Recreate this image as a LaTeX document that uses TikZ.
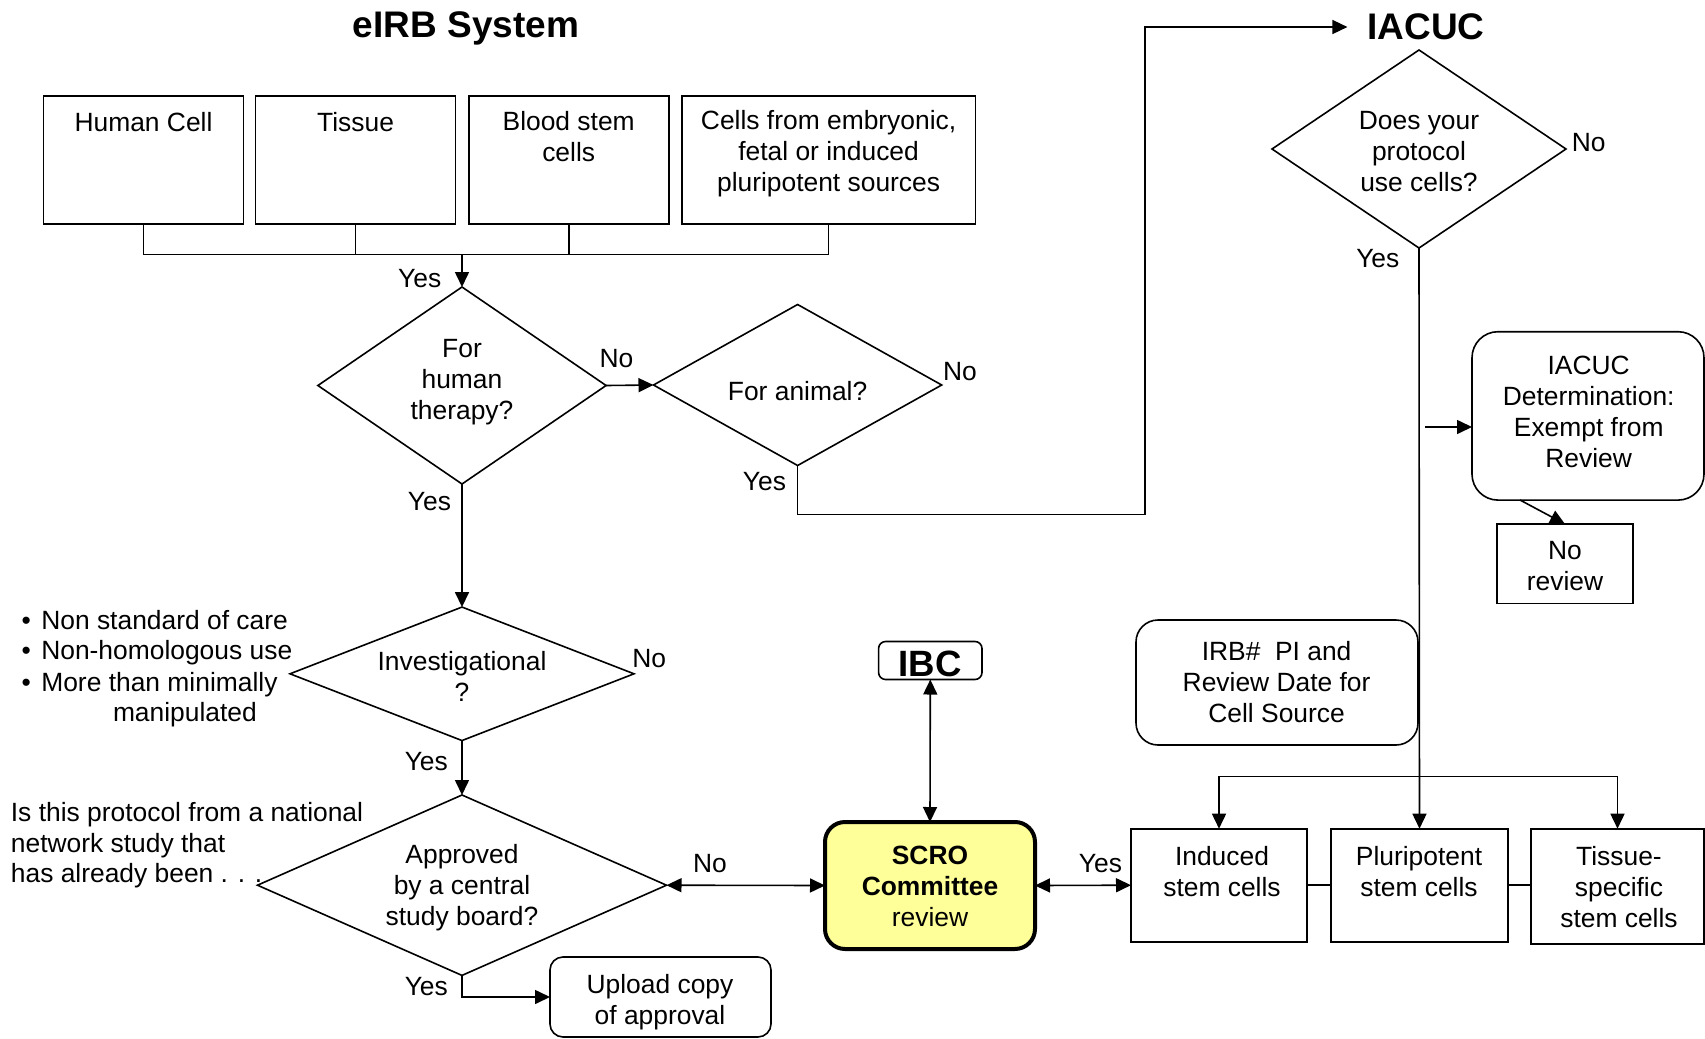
\documentclass[tikz,border=0pt]{standalone}
\usepackage{fontspec}
\setmainfont{Liberation Sans}
\usetikzlibrary{shapes.geometric,arrows.meta}
\definecolor{scroyellow}{HTML}{FFFF99}
\tikzset{
  every node/.style={inner sep=0pt, outer sep=0pt},
  txt/.style={font=\fontsize{13.2}{15.5}\selectfont, align=center},
  lbl/.style={font=\fontsize{13.2}{15.5}\selectfont},
  ttl/.style={font=\fontsize{18.5}{22}\selectfont\bfseries},
  sqbox/.style={draw, line width=0.8pt, rectangle},
  rbox/.style={draw, line width=0.8pt, rectangle, rounded corners=#1},
  dia/.style={draw, line width=0.8pt, diamond},
  conn/.style={line width=0.8pt},
  arr/.style={conn, -{Triangle[length=7.5pt,width=7pt]}},
  darr/.style={conn, {Triangle[length=7.5pt,width=7pt]}-{Triangle[length=7.5pt,width=7pt]}},
}
\begin{document}
\begin{tikzpicture}[x=0.5pt,y=-0.5pt]
\fill[white] (0,0) rectangle (1705,1039);
\useasboundingbox (0,0) rectangle (1705,1039);

% titles
\node[ttl] (ttlirb) at (466,28) {eIRB System};
\node[ttl] (ttliac) at (1426,27) {IACUC};

% top source boxes
\node[sqbox, minimum width=100pt, minimum height=64.2pt] (b1) at (143.5,159.9) {};
\node[txt] (t1) at (143.5,121.8) {Human Cell};
\node[sqbox, minimum width=100pt, minimum height=64.2pt] (b2) at (355.6,159.9) {};
\node[txt] (t2) at (355.6,121.8) {Tissue};
\node[sqbox, minimum width=100pt, minimum height=64.2pt] (b3) at (568.7,159.9) {};
\node[txt] (t3) at (568.7,137) {Blood stem\\cells};
\node[sqbox, minimum width=146.8pt, minimum height=64.2pt] (b4) at (828.6,159.9) {};
\node[txt] (t4) at (828.6,154) {Cells from embryonic,\\fetal or induced\\pluripotent sources};

% diamonds
\node[dia, minimum width=144.1pt, minimum height=98.5pt] (d1) at (462,385.5) {};
\node[txt] (td1) at (462,382) {For\\human\\therapy?};
\node[dia, minimum width=144.1pt, minimum height=80.5pt] (d2) at (797.6,385) {};
\node[txt] (td2) at (797.6,391.5) {For animal?};
\node[dia, minimum width=147pt, minimum height=99pt] (d5) at (1419,149) {};
\node[txt] (td5) at (1419,152) {Does your\\protocol\\use cells?};
\node[dia, minimum width=172pt, minimum height=66.75pt] (d3) at (462,673.8) {};
\node[txt] (td3) at (462,676) {Investigational\\?};
\node[dia, minimum width=204.5pt, minimum height=90.2pt] (d6) at (462,885.2) {};
\node[txt] (td6) at (462,888) {Approved\\by a central\\study board?};

% IACUC side
\node[rbox=13pt, minimum width=116pt, minimum height=84.2pt] (det) at (1588,415.9) {};
\node[txt] (tdet) at (1588.7,411.6) {IACUC\\Determination:\\Exempt from\\Review};
\node[sqbox, minimum width=68pt, minimum height=39.75pt] (nrev) at (1565,563.8) {};
\node[txt] (tnrev) at (1565,566) {No\\review};
\node[rbox=11pt, minimum width=141pt, minimum height=62.5pt] (irb) at (1277,682.5) {};
\node[txt] (tirb) at (1276.6,682) {IRB\#\ \ PI and\\Review Date for\\Cell Source};

% stem cell boxes
\node[sqbox, minimum width=88pt, minimum height=56.5pt] (ind) at (1219,885.2) {};
\node[txt] (tind) at (1222,872) {Induced\\stem cells};
\node[sqbox, minimum width=88.5pt, minimum height=56.5pt] (plu) at (1419.5,885.2) {};
\node[txt] (tplu) at (1419,872) {Pluripotent\\stem cells};
\node[sqbox, minimum width=86.5pt, minimum height=57.6pt] (tis) at (1617.5,886.3) {};
\node[txt] (ttis) at (1619,887.5) {Tissue-\\specific\\stem cells};

% SCRO, IBC, upload
\node[rbox=10pt, draw, line width=2pt, fill=scroyellow, minimum width=105pt, minimum height=63.5pt] (scro) at (930,885.5) {};
\node[txt] (tscro) at (930,886) {\textbf{SCRO}\\\textbf{Committee}\\review};
\node[rbox=3.5pt, minimum width=51.7pt, minimum height=19pt] (ibc) at (930.3,660.5) {};
\node[font=\fontsize{18.3}{22}\selectfont\bfseries] (tibc) at (930.3,664) {IBC};
\node[rbox=6.5pt, minimum width=110.5pt, minimum height=40pt] (upl) at (660.5,997) {};
\node[txt] (tupl) at (660,1002) {Upload copy\\of approval};

% side notes
\node[lbl, anchor=base west] (bl1) at (21.7,629.1) {\makebox[9.8pt][l]{\textbullet}Non standard of care};
\node[lbl, anchor=base west] (bl2) at (21.7,659.6) {\makebox[9.8pt][l]{\textbullet}Non-homologous use};
\node[lbl, anchor=base west] (bl3) at (21.7,691.1) {\makebox[9.8pt][l]{\textbullet}More than minimally};
\node[lbl, anchor=base west] (bl4) at (113,721.6) {manipulated};
\node[lbl, anchor=base west] (nt1) at (10.9,821.6) {Is this protocol from a national};
\node[lbl, anchor=base west] (nt2) at (10.9,852) {network study that};
\node[lbl, anchor=base west] (nt3) at (10.9,882.5) {has already been . . .};

% labels
\node[lbl] (y1) at (419.7,278.4) {Yes};
\node[lbl] (n1) at (616.5,358.8) {No};
\node[lbl] (n2) at (960,372) {No};
\node[lbl] (y2) at (764.5,481.7) {Yes};
\node[lbl] (n3) at (1588.7,142.5) {No};
\node[lbl] (y3) at (1377.8,258.8) {Yes};
\node[lbl] (y4) at (429.5,501.3) {Yes};
\node[lbl] (n4) at (649.2,659) {No};
\node[lbl] (y5) at (426.3,761.2) {Yes};
\node[lbl] (n5) at (710,863.4) {No};
\node[lbl] (y6) at (1100.5,863.4) {Yes};
\node[lbl] (y7) at (426.3,986.3) {Yes};

% connectors
\coordinate (j1) at (462,254.5);
\draw[conn] (b1.south) |- (j1);
\draw[conn] (b2.south) |- (j1);
\draw[conn] (b3.south) |- (j1);
\draw[conn] (b4.south) |- (j1);
\draw[arr] (j1) -- (d1.north);
\draw[arr] (d1.east) -- (d2.west);
\draw[arr] (d1.south) -- (d3.north);
\draw[arr] (d3.south) -- (d6.north);
\draw[arr] (d6.south) |- (upl.west);
\draw[darr] (scro.west) -- (d6.east);
\draw[darr] (ibc.south) -- (scro.north);
\draw[darr] (scro.east) -- (ind.west);
\draw[conn] (ind.east) -- (plu.west);
\draw[conn] (plu.east) -- (plu.east -| tis.west);

\coordinate (c1) at (1145,514.3);
\draw[arr, shorten >=10pt] (d2.south) |- (c1) |- (ttliac.west);

\draw[arr] (d5.south) -- (plu.north);
\coordinate (j2) at (1419,776.4);
\draw[arr] (j2) -| (ind.north);
\draw[arr] (j2) -| (tis.north);
\coordinate (c2) at (1425,427);
\draw[arr] (c2) -- (c2 -| det.west);
\coordinate (c3) at (1520,500);
\draw[arr] (c3) -- (nrev.north);
\end{tikzpicture}
\end{document}
